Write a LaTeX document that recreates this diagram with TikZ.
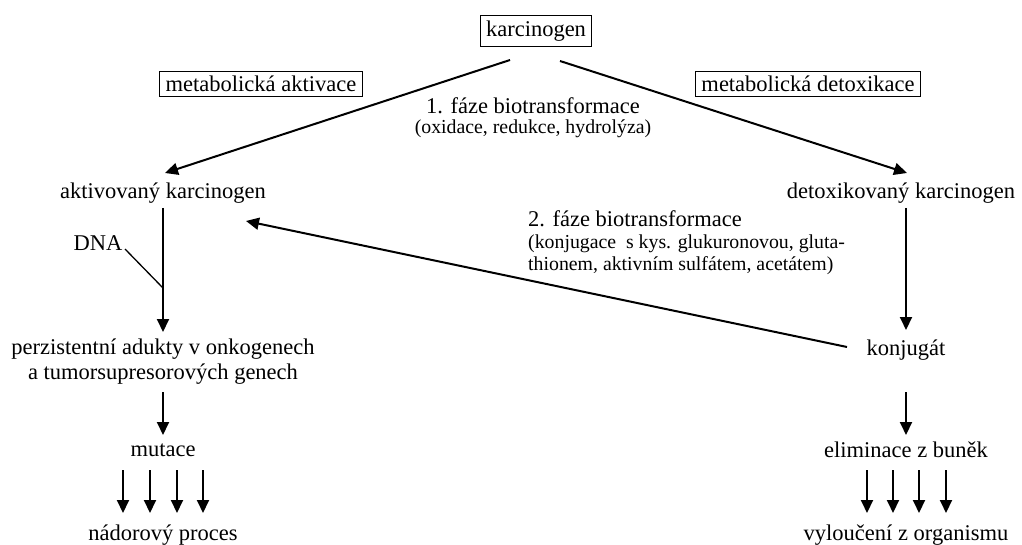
\documentclass[tikz,border=0pt]{standalone}
\usepackage{fontspec}
\setmainfont{Liberation Serif}
\usetikzlibrary{arrows.meta}
\begin{document}
\begin{tikzpicture}[x=1pt,y=-1pt,
  lbl/.style={inner sep=0pt,font=\fontsize{22.5}{25}\selectfont},
  sml/.style={inner sep=0pt,font=\fontsize{19.8}{22}\selectfont,align=left},
  boxed/.style={draw,line width=1pt,inner xsep=6pt,inner ysep=5pt,font=\fontsize{22.5}{25}\selectfont},
  arr/.style={line width=2pt,-{Triangle[length=13pt,width=12pt]}},
  thin/.style={line width=1.3pt}]
\useasboundingbox (0,0) rectangle (1022,545);
\node[boxed] (k) at (536,31) {karcinogen};
\node[boxed] (ma) at (261,84) {metabolická aktivace};
\node[boxed] (md) at (808,84) {metabolická detoxikace};
\node[lbl] (f1) at (533,106) {1. fáze biotransformace};
\node[sml] (f1b) at (533,129) {(oxidace, redukce, hydrolýza)};
\node[lbl] (ak) at (163,193) {aktivovaný karcinogen};
\node[lbl] (dk) at (901,193) {detoxikovaný karcinogen};
\node[lbl,anchor=west] (f2) at (528,219) {2. fáze biotransformace};
\node[sml,anchor=north west] (f2b) at (528,235) {(konjugace\ \ s kys. glukuronovou, gluta-\\thionem, aktivním sulfátem, acetátem)};
\node[lbl] (dna) at (98,243) {DNA};
\node[lbl,align=center] (pa) at (163,362) {perzistentní adukty v onkogenech\\a tumorsupresorových genech};
\node[lbl] (mu) at (163,450) {mutace};
\node[lbl] (np) at (163,535) {nádorový proces};
\node[lbl] (kj) at (906,350) {konjugát};
\node[lbl] (el) at (906,450) {eliminace z buněk};
\node[lbl] (vy) at (906,535) {vyloučení z organismu};
\coordinate (kL) at (510,60);
\coordinate (kR) at (560,61);
\coordinate (akT) at (165,173);
\coordinate (dkT) at (907,173);
\draw[arr] (kL) -- (akT);
\draw[arr] (kR) -- (dkT);
\coordinate (a1) at (163,208);
\coordinate (a2) at (163,332);
\draw[arr] (a1) -- (a2);
\coordinate (dnaE) at (125,249);
\coordinate (dnaJ) at (163,288);
\draw[thin] (dnaE) -- (dnaJ);
\coordinate (b1) at (163,392);
\coordinate (b2) at (163,435);
\draw[arr] (b1) -- (b2);
\foreach \x in {123,150,177,203} \draw[arr] (\x,470) -- (\x,513);
\coordinate (c1) at (906,208);
\coordinate (c2) at (906,330);
\draw[arr] (c1) -- (c2);
\coordinate (d1) at (906,392);
\coordinate (d2) at (906,435);
\draw[arr] (d1) -- (d2);
\foreach \x in {867,893,919,946} \draw[arr] (\x,470) -- (\x,513);
\coordinate (kjW) at (847,347);
\coordinate (akE) at (246,221);
\draw[arr] (kjW) -- (akE);
\end{tikzpicture}
\end{document}
